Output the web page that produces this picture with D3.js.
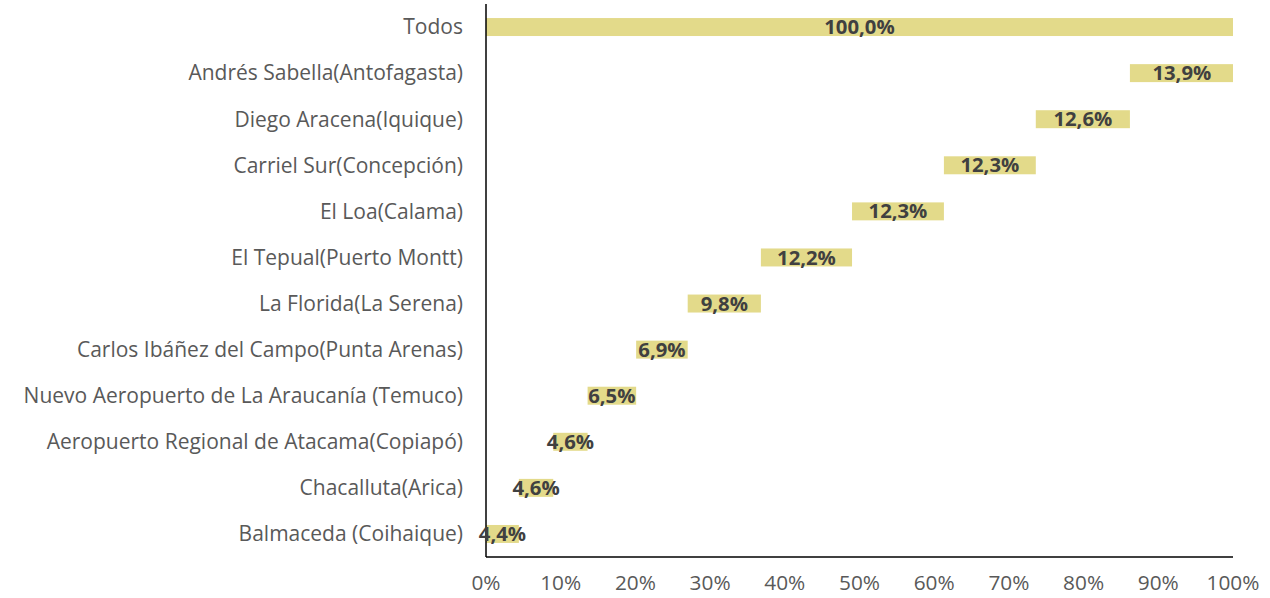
<!DOCTYPE html>
<html><head><meta charset="utf-8">
<script src="https://cdn.jsdelivr.net/npm/d3@7"></script>
<style>body{margin:0;background:#fff;}svg{display:block;}</style>
</head><body>
<svg id="c" width="1270" height="598"></svg>
<script>
const categories = ["Todos","Andrés Sabella(Antofagasta)","Diego Aracena(Iquique)","Carriel Sur(Concepción)","El Loa(Calama)","El Tepual(Puerto Montt)","La Florida(La Serena)","Carlos Ibáñez del Campo(Punta Arenas)","Nuevo Aeropuerto de La Araucanía (Temuco)","Aeropuerto Regional de Atacama(Copiapó)","Chacalluta(Arica)","Balmaceda (Coihaique)"];
const values = [100.0,13.9,12.6,12.3,12.3,12.2,9.8,6.9,6.5,4.6,4.6,4.4];
const tickValues = [0,10,20,30,40,50,60,70,80,90,100];

const svg = d3.select("#c");
const font = "Open Sans, sans-serif";
const x = d3.scaleLinear().domain([0,100]).range([486,1233]);
const y = d3.scaleBand().domain(categories).range([4,557]).paddingInner(0.61).paddingOuter(0.305);

const starts = new Array(values.length).fill(0);
let acc = 0;
for (let i = values.length-1; i >= 1; i--) { starts[i] = acc; acc += values[i]; }
starts[0] = 0;
const data = categories.map((c,i)=>({c, v: values[i], s: starts[i]}));

svg.append("g").selectAll("rect").data(data).join("rect")
  .attr("x", d=>x(d.s)).attr("width", d=>Math.min(x(d.s+d.v),x(100))-x(d.s))
  .attr("y", d=>y(d.c)).attr("height", y.bandwidth())
  .attr("fill", "#E3DA8A");

svg.append("line").attr("x1",486).attr("x2",486).attr("y1",4).attr("y2",557).attr("stroke","#000").attr("stroke-width",1.5);
svg.append("line").attr("x1",486).attr("x2",1233).attr("y1",557).attr("y2",557).attr("stroke","#000").attr("stroke-width",1.5);

const fmt = v => v.toFixed(1).replace(".",",")+"%";
svg.append("g").selectAll("text").data(data).join("text")
  .attr("x", d=>x(d.s + d.v/2)).attr("y", d=>y(d.c)+y.bandwidth()/2)
  .attr("dy","0.35em").attr("text-anchor","middle")
  .attr("font-family",font).attr("font-weight","bold").attr("font-size",20.3)
  .attr("fill","#404040").text(d=>fmt(d.v));

svg.append("g").selectAll("text").data(categories).join("text")
  .attr("x", 463).attr("y", d=>y(d)+y.bandwidth()/2).attr("dy","0.35em")
  .attr("text-anchor","end").attr("font-family",font).attr("font-size",21)
  .attr("fill","#595959").text(d=>d);

svg.append("g").selectAll("text").data(tickValues).join("text")
  .attr("x", d=>x(d)).attr("y", 583).attr("dy","0.35em").attr("text-anchor","middle")
  .attr("font-family",font).attr("font-size",20.8).attr("fill","#595959").text(d=>d+"%");
</script>
</body></html>
